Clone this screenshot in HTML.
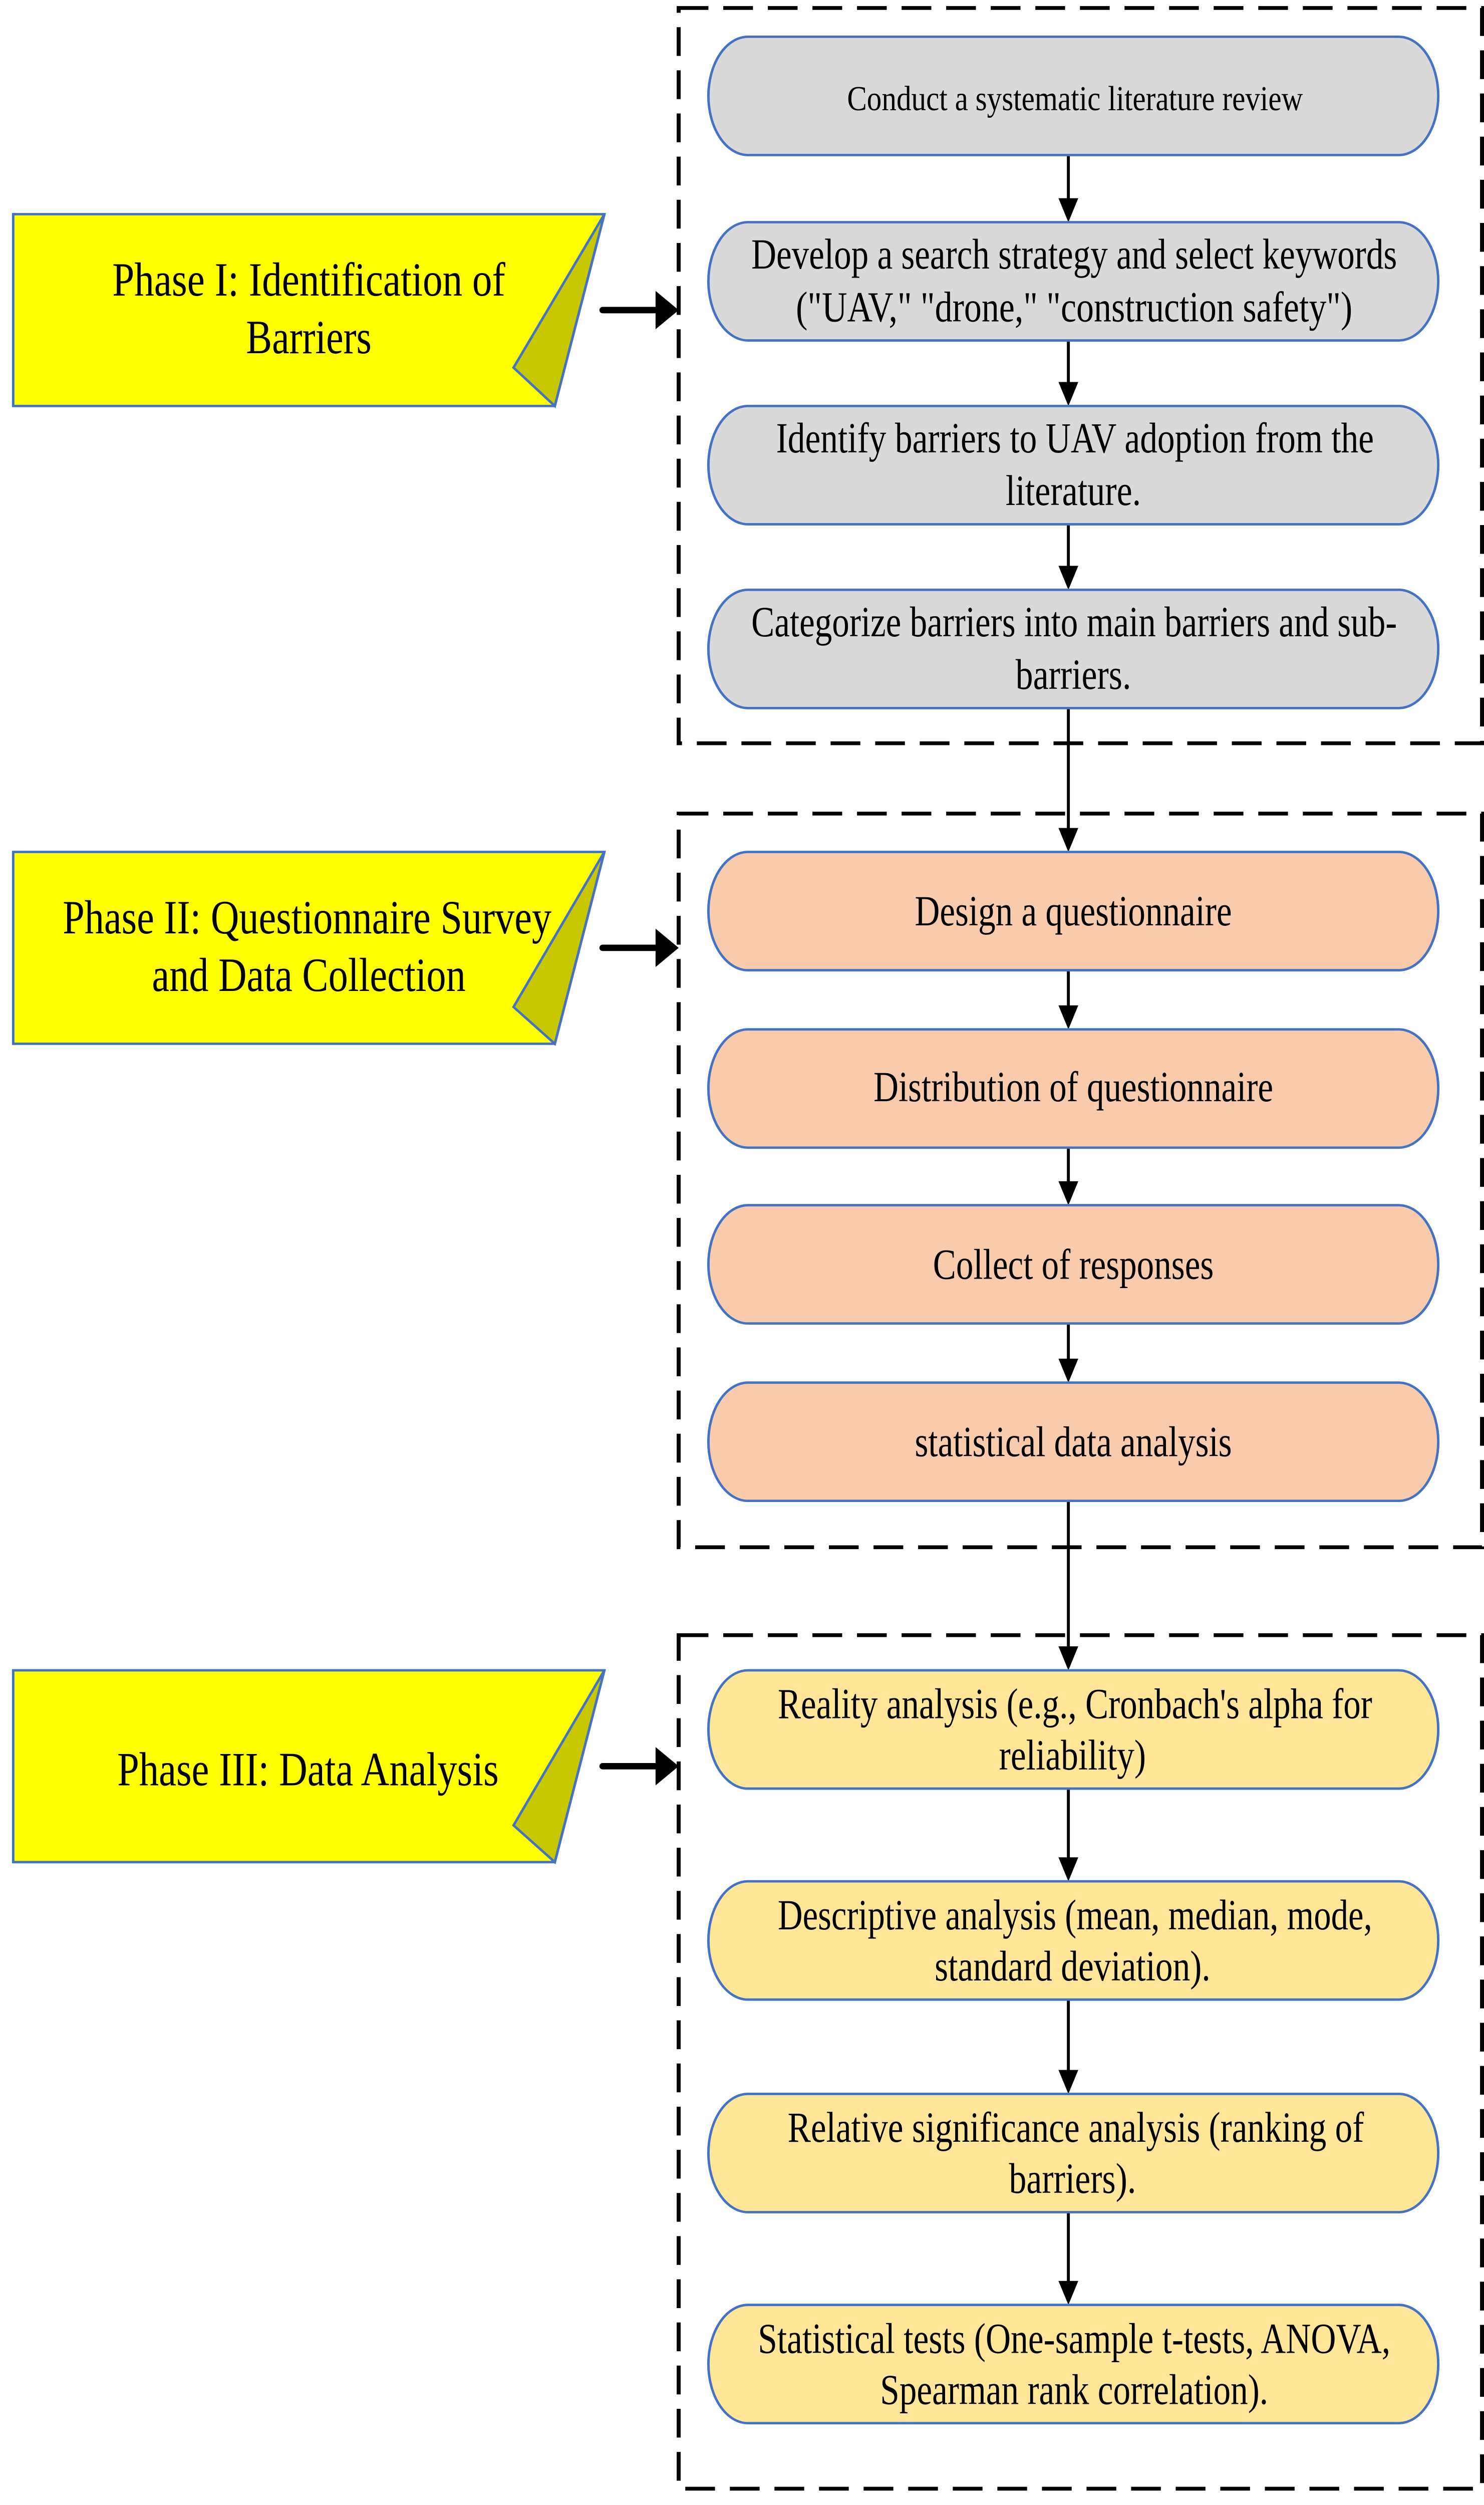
<!DOCTYPE html>
<html><head><meta charset="utf-8"><style>html,body{margin:0;padding:0;background:#fff;width:100%;height:100%;overflow:hidden}svg{display:block;width:100vw;height:100vh}</style></head>
<body>
<svg xmlns="http://www.w3.org/2000/svg" viewBox="0 0 898.7 1567.2" preserveAspectRatio="none">
<g fill="none" stroke="#000" stroke-width="2.4" stroke-dasharray="18,9">
<rect x="411" y="5" width="486.5" height="460"/>
<rect x="411" y="509" width="486.5" height="459"/>
<rect x="411" y="1023" width="486.5" height="534"/>
</g>
<g stroke="#000" stroke-width="1.8">
<line x1="647" y1="97" x2="647" y2="126"/>
<line x1="647" y1="213" x2="647" y2="241"/>
<line x1="647" y1="328" x2="647" y2="356"/>
<line x1="647" y1="443" x2="647" y2="520"/>
<line x1="647" y1="607" x2="647" y2="631"/>
<line x1="647" y1="718" x2="647" y2="741"/>
<line x1="647" y1="828" x2="647" y2="852"/>
<line x1="647" y1="939" x2="647" y2="1032"/>
<line x1="647" y1="1119" x2="647" y2="1164"/>
<line x1="647" y1="1251" x2="647" y2="1297"/>
<line x1="647" y1="1384" x2="647" y2="1429"/>
</g>
<g fill="#000">
<path d="M641,124 L653,124 L647,139 Z"/>
<path d="M641,239 L653,239 L647,254 Z"/>
<path d="M641,354 L653,354 L647,369 Z"/>
<path d="M641,518 L653,518 L647,533 Z"/>
<path d="M641,629 L653,629 L647,644 Z"/>
<path d="M641,739 L653,739 L647,754 Z"/>
<path d="M641,850 L653,850 L647,865 Z"/>
<path d="M641,1030 L653,1030 L647,1045 Z"/>
<path d="M641,1162 L653,1162 L647,1177 Z"/>
<path d="M641,1295 L653,1295 L647,1310 Z"/>
<path d="M641,1427 L653,1427 L647,1442 Z"/>
</g>
<g stroke="#4472c4" stroke-width="1.5">
<rect x="429" y="23" width="442" height="74" rx="24" ry="37" fill="#d9d9d9"/>
<rect x="429" y="139" width="442" height="74" rx="24" ry="37" fill="#d9d9d9"/>
<rect x="429" y="254" width="442" height="74" rx="24" ry="37" fill="#d9d9d9"/>
<rect x="429" y="369" width="442" height="74" rx="24" ry="37" fill="#d9d9d9"/>
<rect x="429" y="533" width="442" height="74" rx="24" ry="37" fill="#f8cbad"/>
<rect x="429" y="644" width="442" height="74" rx="24" ry="37" fill="#f8cbad"/>
<rect x="429" y="754" width="442" height="74" rx="24" ry="37" fill="#f8cbad"/>
<rect x="429" y="865" width="442" height="74" rx="24" ry="37" fill="#f8cbad"/>
<rect x="429" y="1045" width="442" height="74" rx="24" ry="37" fill="#ffe699"/>
<rect x="429" y="1177" width="442" height="74" rx="24" ry="37" fill="#ffe699"/>
<rect x="429" y="1310" width="442" height="74" rx="24" ry="37" fill="#ffe699"/>
<rect x="429" y="1442" width="442" height="74" rx="24" ry="37" fill="#ffe699"/>
</g>
<g stroke="#4472c4" stroke-width="1.5">
<path d="M8,134 L366,134 L336,254 L8,254 Z" fill="#ffff00"/>
<path d="M366,134 L311,230 L336,254 Z" fill="#c8c800"/>
<path d="M8,533 L366,533 L336,653 L8,653 Z" fill="#ffff00"/>
<path d="M366,533 L311,630 L336,653 Z" fill="#c8c800"/>
<path d="M8,1045 L366,1045 L336,1165 L8,1165 Z" fill="#ffff00"/>
<path d="M366,1045 L311,1142 L336,1165 Z" fill="#c8c800"/>
</g>
<g stroke="#000" stroke-width="4" stroke-linecap="round">
<line x1="365" y1="194" x2="400" y2="194"/>
<line x1="365" y1="593" x2="400" y2="593"/>
<line x1="365" y1="1105" x2="400" y2="1105"/>
</g>
<g fill="#000">
<path d="M397,182 L411,194 L397,206 Z"/>
<path d="M397,581 L411,593 L397,605 Z"/>
<path d="M397,1093 L411,1105 L397,1117 Z"/>
</g>
<g font-family="Liberation Serif, serif" font-size="27" fill="#000">
<text x="513" y="69" font-size="22" textLength="276" lengthAdjust="spacingAndGlyphs">Conduct a systematic literature review</text>
<text x="455" y="168" textLength="391" lengthAdjust="spacingAndGlyphs">Develop a search strategy and select keywords</text>
<text x="482" y="201" textLength="337" lengthAdjust="spacingAndGlyphs">("UAV," "drone," "construction safety")</text>
<text x="470" y="283" textLength="362" lengthAdjust="spacingAndGlyphs">Identify barriers to UAV adoption from the</text>
<text x="609" y="316" textLength="82" lengthAdjust="spacingAndGlyphs">literature.</text>
<text x="455" y="398" textLength="391" lengthAdjust="spacingAndGlyphs">Categorize barriers into main barriers and sub-</text>
<text x="615" y="431" textLength="70" lengthAdjust="spacingAndGlyphs">barriers.</text>
<text x="554" y="579" textLength="192" lengthAdjust="spacingAndGlyphs">Design a questionnaire</text>
<text x="529" y="689" textLength="242" lengthAdjust="spacingAndGlyphs">Distribution of questionnaire</text>
<text x="565" y="800" textLength="170" lengthAdjust="spacingAndGlyphs">Collect of responses</text>
<text x="554" y="911" textLength="192" lengthAdjust="spacingAndGlyphs">statistical data analysis</text>
<text x="471" y="1075" textLength="360" lengthAdjust="spacingAndGlyphs">Reality analysis (e.g., Cronbach's alpha for</text>
<text x="605" y="1107" textLength="89" lengthAdjust="spacingAndGlyphs">reliability)</text>
<text x="471" y="1207" textLength="360" lengthAdjust="spacingAndGlyphs">Descriptive analysis (mean, median, mode,</text>
<text x="566" y="1239" textLength="167" lengthAdjust="spacingAndGlyphs">standard deviation).</text>
<text x="477" y="1340" textLength="349" lengthAdjust="spacingAndGlyphs">Relative significance analysis (ranking of</text>
<text x="611" y="1372" textLength="77" lengthAdjust="spacingAndGlyphs">barriers).</text>
<text x="459" y="1472" textLength="383" lengthAdjust="spacingAndGlyphs">Statistical tests (One-sample t-tests, ANOVA,</text>
<text x="533" y="1504" textLength="235" lengthAdjust="spacingAndGlyphs">Spearman rank correlation).</text>
<text x="68" y="185" font-size="30" textLength="238" lengthAdjust="spacingAndGlyphs">Phase I: Identification of</text>
<text x="149" y="221" font-size="30" textLength="76" lengthAdjust="spacingAndGlyphs">Barriers</text>
<text x="38" y="584" font-size="30" textLength="296" lengthAdjust="spacingAndGlyphs">Phase II: Questionnaire Survey</text>
<text x="92" y="620" font-size="30" textLength="190" lengthAdjust="spacingAndGlyphs">and Data Collection</text>
<text x="71" y="1117" font-size="30" textLength="231" lengthAdjust="spacingAndGlyphs">Phase III: Data Analysis</text>
</g>
</svg>
</body></html>
